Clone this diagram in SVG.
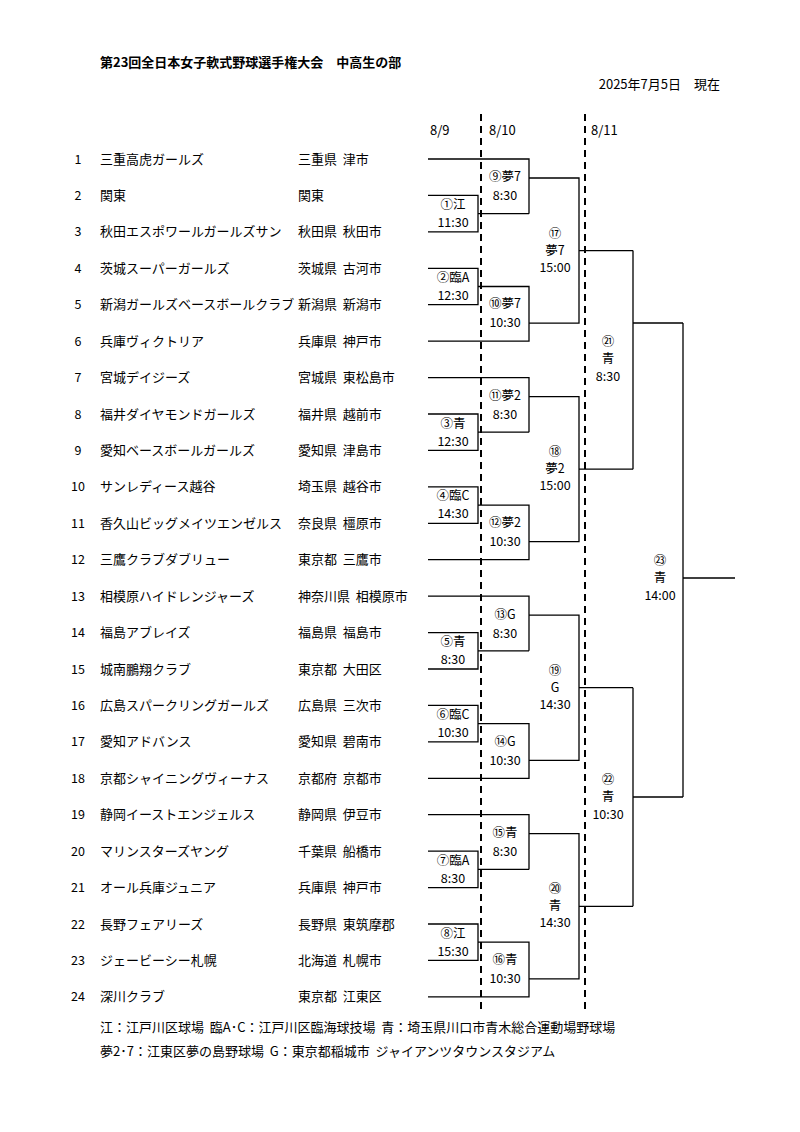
<svg xmlns="http://www.w3.org/2000/svg" width="800" height="1132" viewBox="0 0 800 1132">
<style>
text{font-family:"Noto Sans CJK JP","Noto Sans",sans-serif;font-size:13px;fill:#000}
.c{text-anchor:middle;font-size:12.5px}
.t{font-weight:bold;font-size:13px}
.ln{fill:none;stroke:#000;stroke-width:1.3}
.ds{fill:none;stroke:#000;stroke-width:2;stroke-dasharray:7,5}
</style>
<rect width="800" height="1132" fill="#fff"/>
<text class="t" x="100" y="67">第23回全日本女子軟式野球選手権大会　中高生の部</text>
<text x="720" y="89" text-anchor="end">2025年7月5日　現在</text>
<text x="430" y="135">8/9</text><text x="489" y="135">8/10</text><text x="591" y="135">8/11</text>
<g id="teams">
<g id="t1"><text class="c" x="78" y="163.5">1</text><text x="100" y="163.5">三重高虎ガールズ</text><text x="298" y="163.5" xml:space="preserve">三重県  津市</text></g>
<g id="t2"><text class="c" x="78" y="199.9">2</text><text x="100" y="199.9">関東</text><text x="298" y="199.9">関東</text></g>
<g id="t3"><text class="c" x="78" y="236.4">3</text><text x="100" y="236.4">秋田エスポワールガールズサン</text><text x="298" y="236.4" xml:space="preserve">秋田県  秋田市</text></g>
<g id="t4"><text class="c" x="78" y="272.8">4</text><text x="100" y="272.8">茨城スーパーガールズ</text><text x="298" y="272.8" xml:space="preserve">茨城県  古河市</text></g>
<g id="t5"><text class="c" x="78" y="309.2">5</text><text x="100" y="309.2">新潟ガールズベースボールクラブ</text><text x="298" y="309.2" xml:space="preserve">新潟県  新潟市</text></g>
<g id="t6"><text class="c" x="78" y="345.7">6</text><text x="100" y="345.7">兵庫ヴィクトリア</text><text x="298" y="345.7" xml:space="preserve">兵庫県  神戸市</text></g>
<g id="t7"><text class="c" x="78" y="382.1">7</text><text x="100" y="382.1">宮城デイジーズ</text><text x="298" y="382.1" xml:space="preserve">宮城県  東松島市</text></g>
<g id="t8"><text class="c" x="78" y="418.5">8</text><text x="100" y="418.5">福井ダイヤモンドガールズ</text><text x="298" y="418.5" xml:space="preserve">福井県  越前市</text></g>
<g id="t9"><text class="c" x="78" y="454.9">9</text><text x="100" y="454.9">愛知ベースボールガールズ</text><text x="298" y="454.9" xml:space="preserve">愛知県  津島市</text></g>
<g id="t10"><text class="c" x="78" y="491.4">10</text><text x="100" y="491.4">サンレディース越谷</text><text x="298" y="491.4" xml:space="preserve">埼玉県  越谷市</text></g>
<g id="t11"><text class="c" x="78" y="527.8">11</text><text x="100" y="527.8">香久山ビッグメイツエンゼルス</text><text x="298" y="527.8" xml:space="preserve">奈良県  橿原市</text></g>
<g id="t12"><text class="c" x="78" y="564.2">12</text><text x="100" y="564.2">三鷹クラブダブリュー</text><text x="298" y="564.2" xml:space="preserve">東京都  三鷹市</text></g>
<g id="t13"><text class="c" x="78" y="600.7">13</text><text x="100" y="600.7">相模原ハイドレンジャーズ</text><text x="298" y="600.7" xml:space="preserve">神奈川県  相模原市</text></g>
<g id="t14"><text class="c" x="78" y="637.1">14</text><text x="100" y="637.1">福島アブレイズ</text><text x="298" y="637.1" xml:space="preserve">福島県  福島市</text></g>
<g id="t15"><text class="c" x="78" y="673.5">15</text><text x="100" y="673.5">城南鵬翔クラブ</text><text x="298" y="673.5" xml:space="preserve">東京都  大田区</text></g>
<g id="t16"><text class="c" x="78" y="709.9">16</text><text x="100" y="709.9">広島スパークリングガールズ</text><text x="298" y="709.9" xml:space="preserve">広島県  三次市</text></g>
<g id="t17"><text class="c" x="78" y="746.4">17</text><text x="100" y="746.4">愛知アドバンス</text><text x="298" y="746.4" xml:space="preserve">愛知県  碧南市</text></g>
<g id="t18"><text class="c" x="78" y="782.8">18</text><text x="100" y="782.8">京都シャイニングヴィーナス</text><text x="298" y="782.8" xml:space="preserve">京都府  京都市</text></g>
<g id="t19"><text class="c" x="78" y="819.2">19</text><text x="100" y="819.2">静岡イーストエンジェルス</text><text x="298" y="819.2" xml:space="preserve">静岡県  伊豆市</text></g>
<g id="t20"><text class="c" x="78" y="855.6">20</text><text x="100" y="855.6">マリンスターズヤング</text><text x="298" y="855.6" xml:space="preserve">千葉県  船橋市</text></g>
<g id="t21"><text class="c" x="78" y="892.1">21</text><text x="100" y="892.1">オール兵庫ジュニア</text><text x="298" y="892.1" xml:space="preserve">兵庫県  神戸市</text></g>
<g id="t22"><text class="c" x="78" y="928.5">22</text><text x="100" y="928.5">長野フェアリーズ</text><text x="298" y="928.5" xml:space="preserve">長野県  東筑摩郡</text></g>
<g id="t23"><text class="c" x="78" y="964.9">23</text><text x="100" y="964.9">ジェービーシー札幌</text><text x="298" y="964.9" xml:space="preserve">北海道  札幌市</text></g>
<g id="t24"><text class="c" x="78" y="1001.4">24</text><text x="100" y="1001.4">深川クラブ</text><text x="298" y="1001.4" xml:space="preserve">東京都  江東区</text></g>
</g>
<g id="connectors">
<path class="ds" d="M481 114V1014M585 114V1014"/>
<path class="ln" d="M428 159H529V213.7M428 195.4H478V231.9H428M478 213.7H529M428 268.3H478V304.7H428M478 286.5H529V341.2H428M529 178H579V323.2H529M579 250.6H633"/>
<path class="ln" d="M428 377.6H529V432.2M428 414H478V450.4H428M478 432.2H529M428 486.9H478V523.3H428M478 505.1H529V559.7H428M529 396.6H579V541.7H529M579 469.2H633"/>
<path class="ln" d="M428 596.2H529V650.8M428 632.6H478V669H428M478 650.8H529M428 705.4H478V741.9H428M478 723.7H529V778.3H428M529 615.2H579V760.3H529M579 687.7H633"/>
<path class="ln" d="M428 814.7H529V869.4M428 851.1H478V887.6H428M478 869.4H529M428 924H478V960.4H428M478 942.2H529V996.9H428M529 833.7H579V978.9H529M579 906.3H633"/>
<path class="ln" d="M633 250.6V469.2M633 323H683M633 687.7V906.3M633 797H683M683 323V797M683 578H735"/>
</g>
<g id="labels">
<text class="c" x="453" y="209">①江</text><text class="c" x="453" y="227">11:30</text>
<text class="c" x="453" y="282">②臨A</text><text class="c" x="453" y="300">12:30</text>
<text class="c" x="453" y="428">③青</text><text class="c" x="453" y="446">12:30</text>
<text class="c" x="453" y="500">④臨C</text><text class="c" x="453" y="518">14:30</text>
<text class="c" x="453" y="646">⑤青</text><text class="c" x="453" y="664">8:30</text>
<text class="c" x="453" y="719">⑥臨C</text><text class="c" x="453" y="737">10:30</text>
<text class="c" x="453" y="865">⑦臨A</text><text class="c" x="453" y="883">8:30</text>
<text class="c" x="453" y="938">⑧江</text><text class="c" x="453" y="956">15:30</text>
<text class="c" x="505" y="181">⑨夢7</text><text class="c" x="505" y="200">8:30</text>
<text class="c" x="505" y="308">⑩夢7</text><text class="c" x="505" y="327">10:30</text>
<text class="c" x="505" y="400">⑪夢2</text><text class="c" x="505" y="419">8:30</text>
<text class="c" x="505" y="527">⑫夢2</text><text class="c" x="505" y="546">10:30</text>
<text class="c" x="505" y="619">⑬G</text><text class="c" x="505" y="638">8:30</text>
<text class="c" x="505" y="746">⑭G</text><text class="c" x="505" y="765">10:30</text>
<text class="c" x="505" y="837">⑮青</text><text class="c" x="505" y="856">8:30</text>
<text class="c" x="505" y="964">⑯青</text><text class="c" x="505" y="983">10:30</text>
<text class="c" x="555" y="238">⑰</text><text class="c" x="555" y="255">夢7</text><text class="c" x="555" y="272">15:00</text>
<text class="c" x="555" y="456">⑱</text><text class="c" x="555" y="473">夢2</text><text class="c" x="555" y="490">15:00</text>
<text class="c" x="555" y="675">⑲</text><text class="c" x="555" y="692">G</text><text class="c" x="555" y="709">14:30</text>
<text class="c" x="555" y="893">⑳</text><text class="c" x="555" y="910">青</text><text class="c" x="555" y="927">14:30</text>
<text class="c" x="608" y="346">㉑</text><text class="c" x="608" y="363">青</text><text class="c" x="608" y="381">8:30</text>
<text class="c" x="608" y="784">㉒</text><text class="c" x="608" y="801">青</text><text class="c" x="608" y="819">10:30</text>
<text class="c" x="660" y="565">㉓</text><text class="c" x="660" y="582">青</text><text class="c" x="660" y="600">14:00</text>
</g>
<text x="100" y="1032" xml:space="preserve">江：江戸川区球場  臨A･C：江戸川区臨海球技場  青：埼玉県川口市青木総合運動場野球場</text>
<text x="100" y="1056" xml:space="preserve">夢2･7：江東区夢の島野球場  G：東京都稲城市  ジャイアンツタウンスタジアム</text>
</svg>
